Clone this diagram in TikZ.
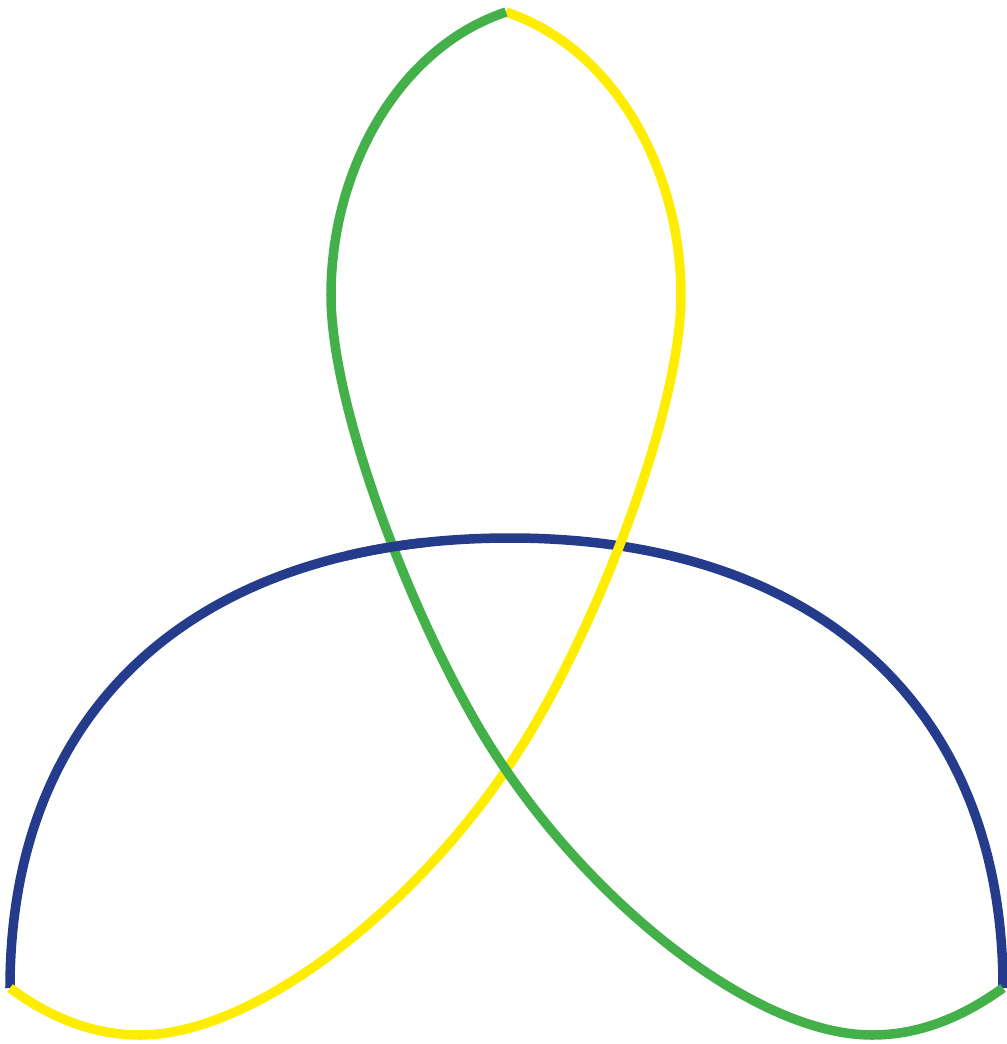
\documentclass[tikz,border=0pt]{standalone}
\usepackage{xcolor}
\definecolor{knotblue}{RGB}{37,59,140}
\definecolor{knotgreen}{RGB}{67,176,74}
\definecolor{knotyellow}{RGB}{255,237,0}

\begin{document}
\begin{tikzpicture}[
            x = 0.01cm, y = -0.01cm,
            strand/.style = {
                line width = 0.095cm,
                line cap   = butt
            }
        ]
            \useasboundingbox (0,0) rectangle (1007,1044);

            \coordinate (top)    at (506,12);
            \coordinate (cross)  at (506,770);
            \coordinate (leftend)  at (10,988);
            \coordinate (rightend) at (1003,988);

            % lower loop
            \draw[strand, knotblue] (leftend)
                .. controls (10,705) and (200,538) .. (510,538)
                .. controls (815,538) and (1003,705) .. (rightend);

            \draw[strand, knotyellow] (top)
                .. controls (614,48) and (681,170) .. (681,295)
                .. controls (681,420) and (583,660) .. (cross)
                .. controls (411,910) and (254,1035) .. (140,1035)
                .. controls (82,1035) and (37,1008) .. (leftend);

            \draw[strand, knotgreen] (top)
                .. controls (398,48) and (331,170) .. (331,295)
                .. controls (331,420) and (429,660) .. (cross)
                .. controls (601,910) and (758,1035) .. (872,1035)
                .. controls (930,1035) and (975,1008) .. (rightend);

            % blue over green on the left crossing
            \begin{scope}
                \clip (385,548) circle (40);
                \draw[strand, knotblue] (leftend)
                    .. controls (10,705) and (200,538) .. (510,538);
            \end{scope}
        \end{tikzpicture}
\end{document}
